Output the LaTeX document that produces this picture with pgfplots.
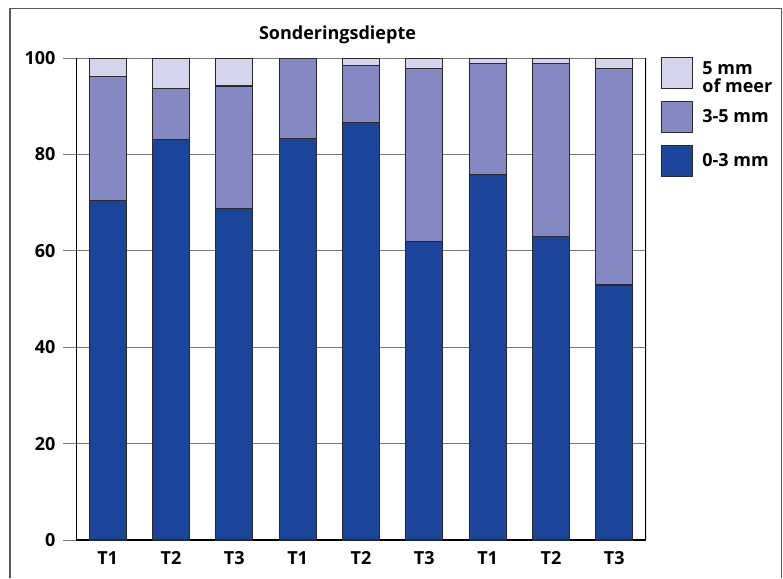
\documentclass[border=0pt]{standalone}
\usepackage{pgfplots}
\pgfplotsset{compat=1.18}
\usepackage{pgfplotstable}
\usepackage{fontspec}
\setmainfont{Open Sans}

\definecolor{diep}{HTML}{1B459A}
\definecolor{midden}{HTML}{8489C4}
\definecolor{ondiep}{HTML}{D4D5EC}
\definecolor{rooster}{HTML}{7A7A7A}
\definecolor{kader}{HTML}{5A5A5A}
\definecolor{rand}{HTML}{2A2A2A}

% sounding depth shares per plot (percent)
\pgfplotstableread{
x  d     m     l
0  70.4  25.8  3.8
1  83.1  10.6  6.3
2  68.7  25.5  5.8
3  83.3  16.7  0.0
4  86.7  11.8  1.5
5  62.0  35.9  2.1
6  75.9  23.0  1.1
7  62.9  36.0  1.1
8  52.9  44.9  2.2
}\sondering

\pgfplotsset{
  legendsq/.style={legend image code/.code={%
    \draw[##1,draw=rand,line width=1.2pt] (0pt,-15.5pt) rectangle (31pt,15.5pt);}},
}

\begin{document}
\begin{tikzpicture}[x=1pt,y=1pt]
\useasboundingbox (0,0) rectangle (783,-578);
\draw[kader,line width=1.2pt] (10,-578) -- (10,-8.3) -- (781.7,-8.3) -- (781.7,-578);
\node[anchor=base,font=\fontsize{18}{14}\selectfont\bfseries] at (337.5,-39.3) {Sonderingsdiepte};
\begin{axis}[
  at={(76pt,-540pt)}, anchor=south west,
  scale only axis, width=570pt, height=482pt,
  ybar stacked, bar width=37pt,
  xmin=-0.5, xmax=8.5, ymin=0, ymax=100,
  xtick=data,
  xticklabels={T1,T2,T3,T1,T2,T3,T1,T2,T3},
  ytick={0,20,...,100},
  ytick pos=left,
  tick align=outside,
  major tick length=13pt,
  xtick style={draw=none},
  ytick style={draw=rooster,line width=1pt},
  ymajorgrids,
  grid style={rooster,line width=1pt},
  axis line style={draw=none},
  /pgf/number format/assume math mode=true,
  ticklabel style={font=\fontsize{18}{14}\selectfont\bfseries},
  yticklabel style={xshift=-4pt},
  xticklabel style={yshift=5pt},
  legend style={at={(rel axis cs:1,1)},anchor=north west,xshift=15pt,yshift=1.3pt,
    draw=none,fill=none,inner sep=0pt,
    font=\fontsize{18}{14}\selectfont\bfseries,
    nodes={inner sep=0pt},
    row sep=11.7pt, column sep=9pt,
    cells={anchor=west}},
  legend cell align=left,
  reverse legend,
]
\addplot[fill=diep,draw=rand,line width=1.2pt,legendsq] table[x=x,y=d] {\sondering};
\addlegendentry{0-3 mm}
\addplot[fill=midden,draw=rand,line width=1.2pt,legendsq] table[x=x,y=m] {\sondering};
\addlegendentry{3-5 mm}
\addplot[fill=ondiep,draw=rand,line width=1.2pt,legendsq] table[x=x,y=l] {\sondering};
\addlegendentry{\begin{tabular}{@{}l@{}}5 mm\\of meer\end{tabular}}
\draw[black,line width=1.4pt] (rel axis cs:0,1) -- (rel axis cs:0,0) -- (rel axis cs:1,0) -- (rel axis cs:1,1);
\end{axis}
\end{tikzpicture}
\end{document}
